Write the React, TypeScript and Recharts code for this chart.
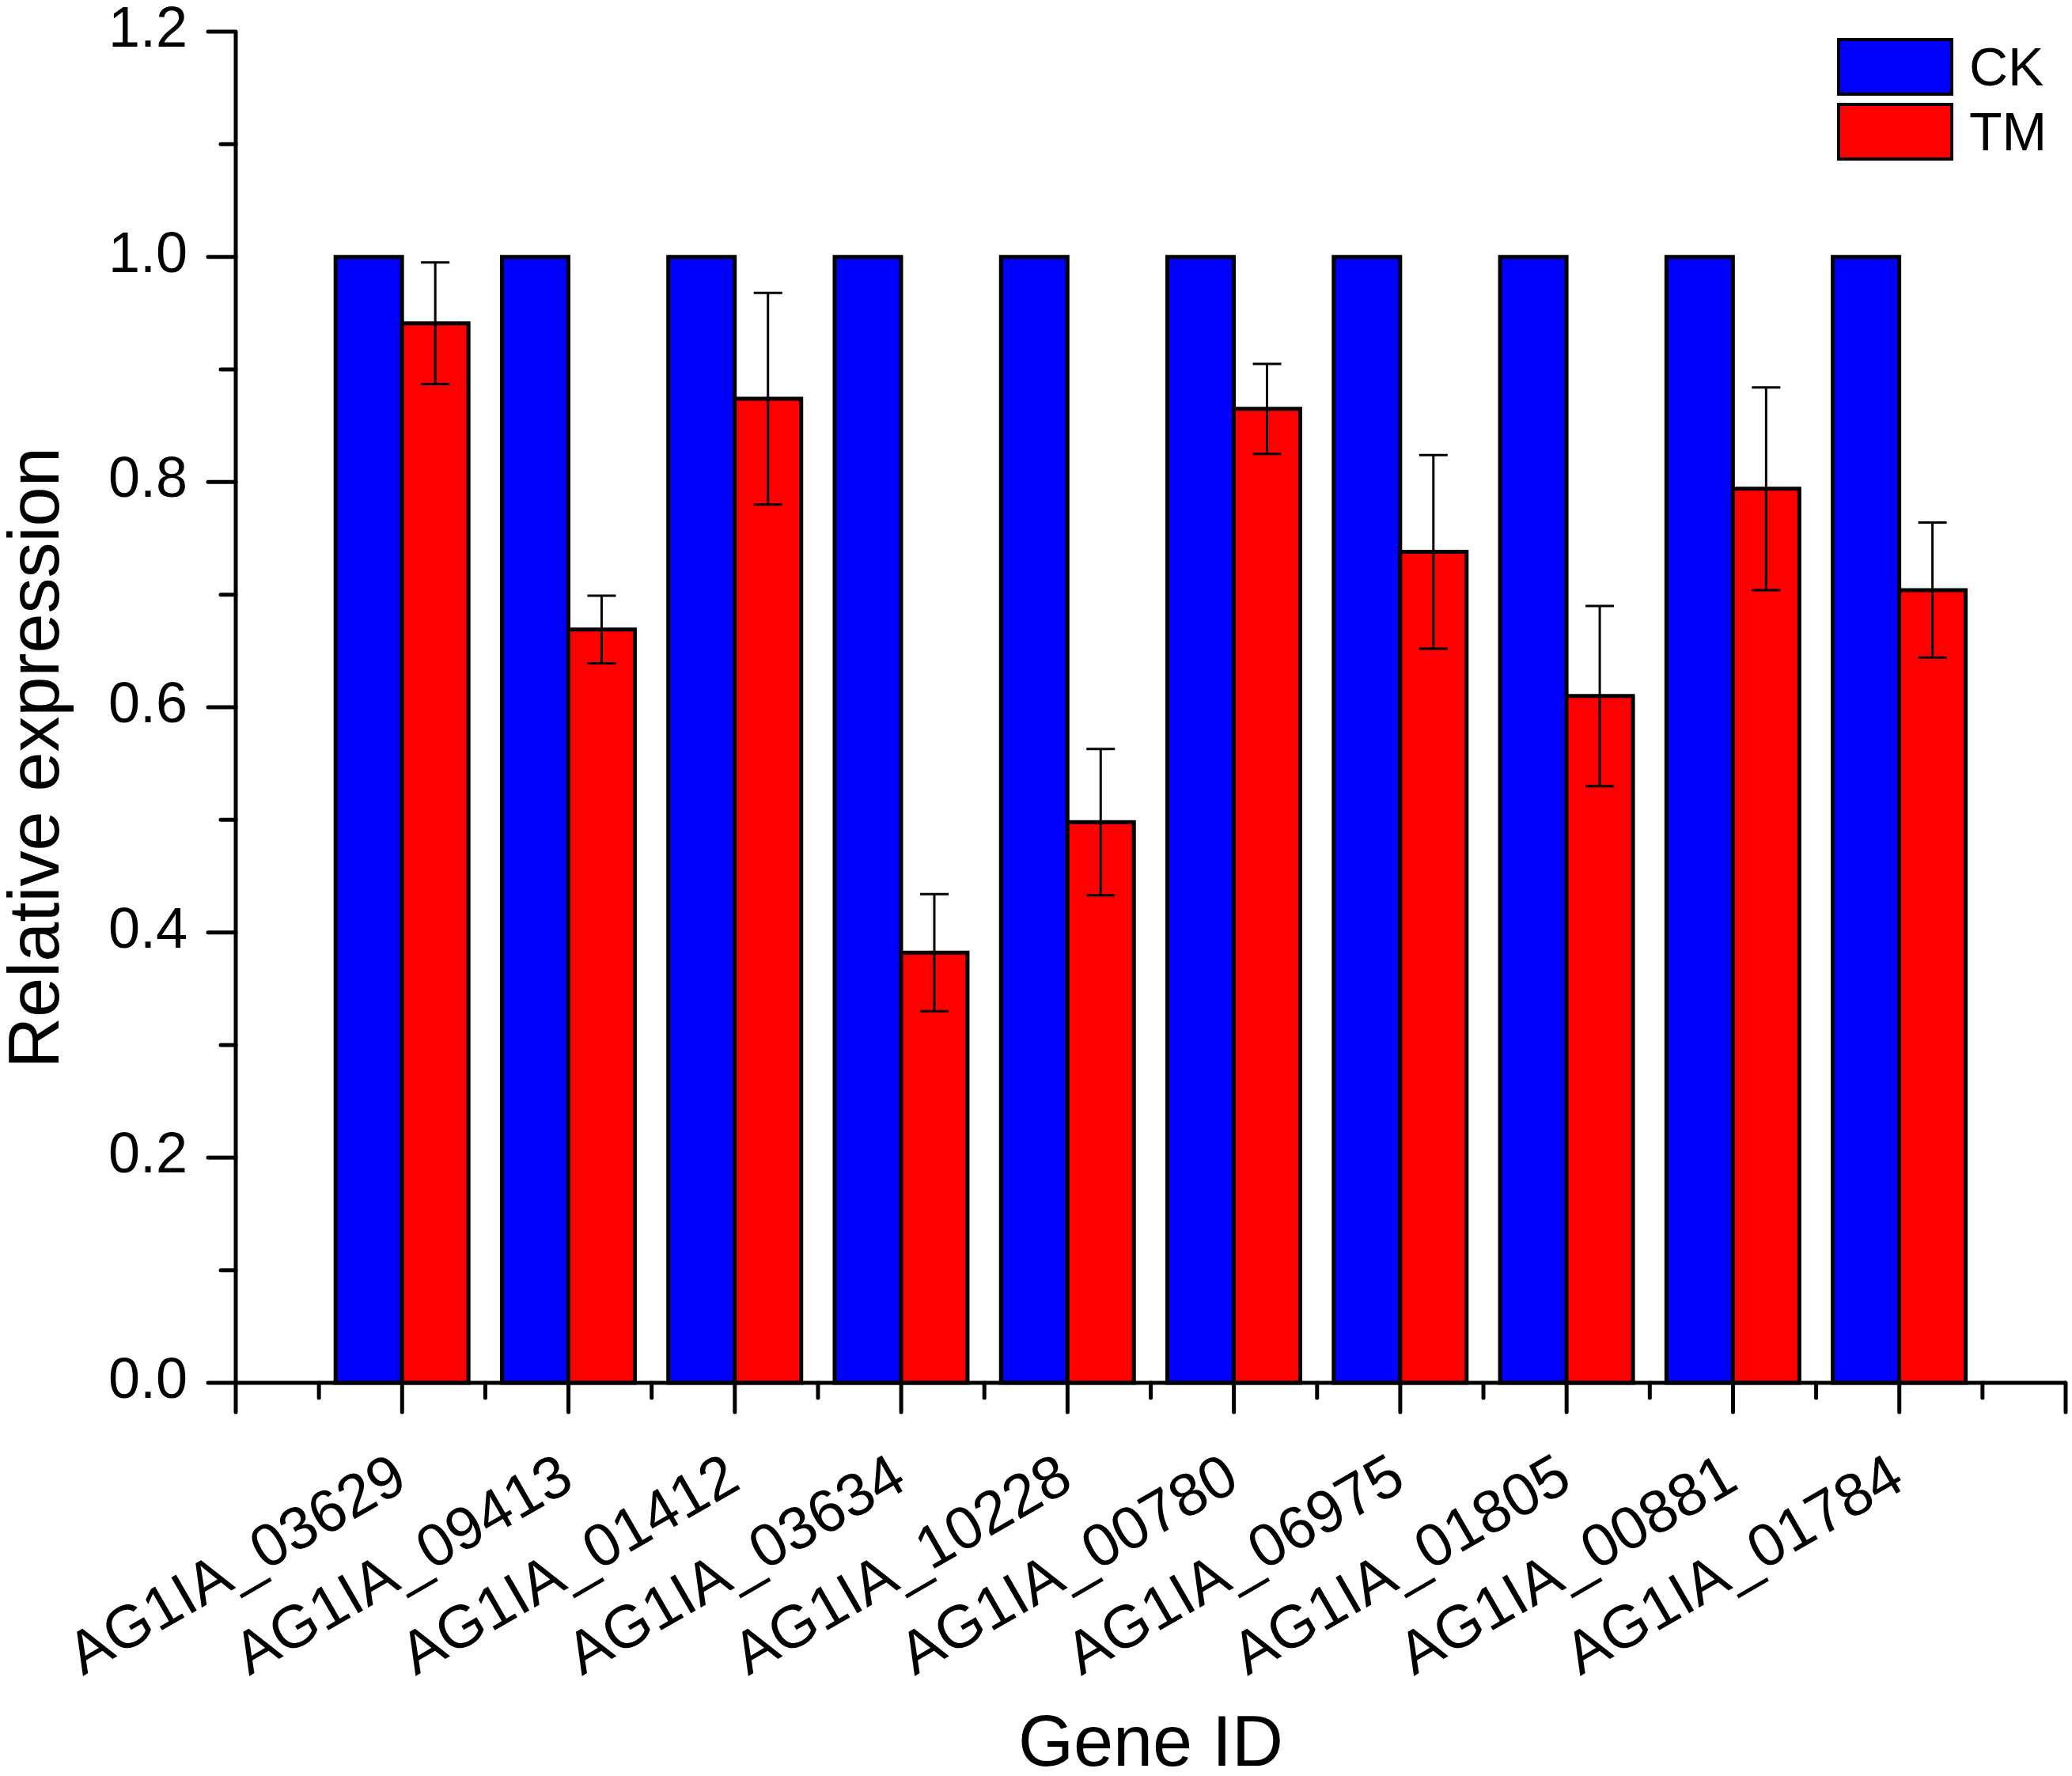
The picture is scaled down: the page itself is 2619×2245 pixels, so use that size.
import { BarChart, Bar, XAxis, YAxis, ErrorBar, Legend } from "recharts";

const genes = [
  "AG1IA_03629",
  "AG1IA_09413",
  "AG1IA_01412",
  "AG1IA_03634",
  "AG1IA_10228",
  "AG1IA_00780",
  "AG1IA_06975",
  "AG1IA_01805",
  "AG1IA_00881",
  "AG1IA_01784",
];
const ckValues = [1, 1, 1, 1, 1, 1, 1, 1, 1, 1];
const tmValues = [0.941, 0.669, 0.874, 0.382, 0.498, 0.865, 0.738, 0.61, 0.794, 0.704];
const tmErrors = [0.054, 0.03, 0.094, 0.052, 0.065, 0.04, 0.086, 0.08, 0.09, 0.06];
const yTicks = [0, 0.1, 0.2, 0.3, 0.4, 0.5, 0.6, 0.7, 0.8, 0.9, 1.0, 1.1, 1.2];

const data = genes.map((gene, i) => ({
  gene,
  ck: ckValues[i],
  tm: tmValues[i],
  tmErr: tmErrors[i],
}));

const W = 2619;
const H = 2245;
const PLOT_LEFT = 298;
const PLOT_RIGHT = 2611;
const PLOT_TOP = 40;
const PLOT_BOTTOM = 1748;
const AXIS_SIZE = 100;
// one band per gene plus half a band of padding on both ends
const BAND = (PLOT_RIGHT - PLOT_LEFT) / (genes.length + 1);
const FONT = '"Liberation Sans", Arial, Helvetica, sans-serif';

function XTick(props: any) {
  const { x, y, payload, index } = props;
  const last = index === genes.length - 1;
  const tick = (px: number, len: number, key: string) => (
    <line key={key} x1={px} y1={y} x2={px} y2={y + len} stroke="#000" strokeWidth={5} strokeLinecap="round" />
  );
  const ax = x + 10;
  const ay = y + 132;
  return (
    <g>
      {tick(x, 37, "major")}
      {tick(x - BAND / 2, 19, "minor")}
      {index === 0 && tick(x - BAND, 37, "start")}
      {last && tick(x + BAND / 2, 19, "minorEnd")}
      {last && tick(x + BAND, 37, "end")}
      <text
        x={ax}
        y={ay}
        textAnchor="end"
        transform={`rotate(-30, ${ax}, ${ay})`}
        fontSize={76}
        fontFamily={FONT}
        fill="#000"
      >
        {payload.value}
      </text>
    </g>
  );
}

function YTick(props: any) {
  const { x, y, payload, index } = props;
  const major = index % 2 === 0;
  return (
    <g>
      <line x1={x} y1={y} x2={x - (major ? 35 : 19)} y2={y} stroke="#000" strokeWidth={5} strokeLinecap="round" />
      {major && (
        <text
          x={x - 61}
          y={y - 6}
          textAnchor="end"
          dominantBaseline="central"
          fontSize={72}
          fontFamily={FONT}
          fill="#000"
        >
          {Number(payload.value).toFixed(1)}
        </text>
      )}
    </g>
  );
}

function LegendBox(props: any) {
  const { payload } = props;
  return (
    <div style={{ fontFamily: FONT }}>
      {(payload || []).map((entry: any) => (
        <div key={entry.value} style={{ display: "flex", alignItems: "center", height: 73, marginBottom: 9 }}>
          <div
            style={{
              width: 147,
              height: 73,
              boxSizing: "border-box",
              border: "4px solid #000",
              background: entry.color,
            }}
          />
          <span style={{ fontSize: 68, lineHeight: "73px", marginLeft: 20, color: "#000" }}>{entry.value}</span>
        </div>
      ))}
    </div>
  );
}

export default function App() {
  return (
    <div style={{ position: "absolute", left: 0, top: 0, width: W, height: H, background: "#fff" }}>
      <BarChart
        width={W}
        height={H}
        data={data}
        margin={{
          top: PLOT_TOP,
          right: W - PLOT_RIGHT,
          bottom: H - PLOT_BOTTOM - AXIS_SIZE,
          left: PLOT_LEFT - AXIS_SIZE,
        }}
        barCategoryGap="10%"
        barGap={0}
      >
        <XAxis
          dataKey="gene"
          type="category"
          height={AXIS_SIZE}
          padding={{ left: BAND / 2, right: BAND / 2 }}
          interval={0}
          tickSize={0}
          tickMargin={0}
          tickLine={false}
          axisLine={{ stroke: "#000", strokeWidth: 5 }}
          tick={<XTick />}
          label={(p: any) => {
            const vb = p.viewBox || {};
            return (
              <text
                x={vb.x + vb.width / 2}
                y={PLOT_BOTTOM + 484}
                textAnchor="middle"
                fontSize={90}
                fontFamily={FONT}
                fill="#000"
              >
                Gene ID
              </text>
            );
          }}
        />
        <YAxis
          type="number"
          domain={[0, 1.2]}
          ticks={yTicks}
          interval={0}
          width={AXIS_SIZE}
          tickSize={0}
          tickMargin={0}
          tickLine={false}
          axisLine={{ stroke: "#000", strokeWidth: 5 }}
          tick={<YTick />}
          label={(p: any) => {
            const vb = p.viewBox || {};
            const cy = vb.y + vb.height / 2 + 64;
            return (
              <text
                x={74}
                y={cy}
                textAnchor="middle"
                transform={`rotate(-90, 74, ${cy})`}
                fontSize={90}
                fontFamily={FONT}
                fill="#000"
              >
                Relative expression
              </text>
            );
          }}
        />
        <Legend
          layout="horizontal"
          verticalAlign="middle"
          align="center"
          content={<LegendBox />}
          wrapperStyle={{ top: 48, left: 2322, width: 290 }}
        />
        <Bar dataKey="ck" name="CK" fill="#0000FF" stroke="#000" strokeWidth={5} isAnimationActive={false} />
        <Bar dataKey="tm" name="TM" fill="#FF0000" stroke="#000" strokeWidth={5} isAnimationActive={false}>
          <ErrorBar dataKey="tmErr" width={18} stroke="#000" strokeWidth={3} direction="y" isAnimationActive={false} />
        </Bar>
      </BarChart>
    </div>
  );
}
